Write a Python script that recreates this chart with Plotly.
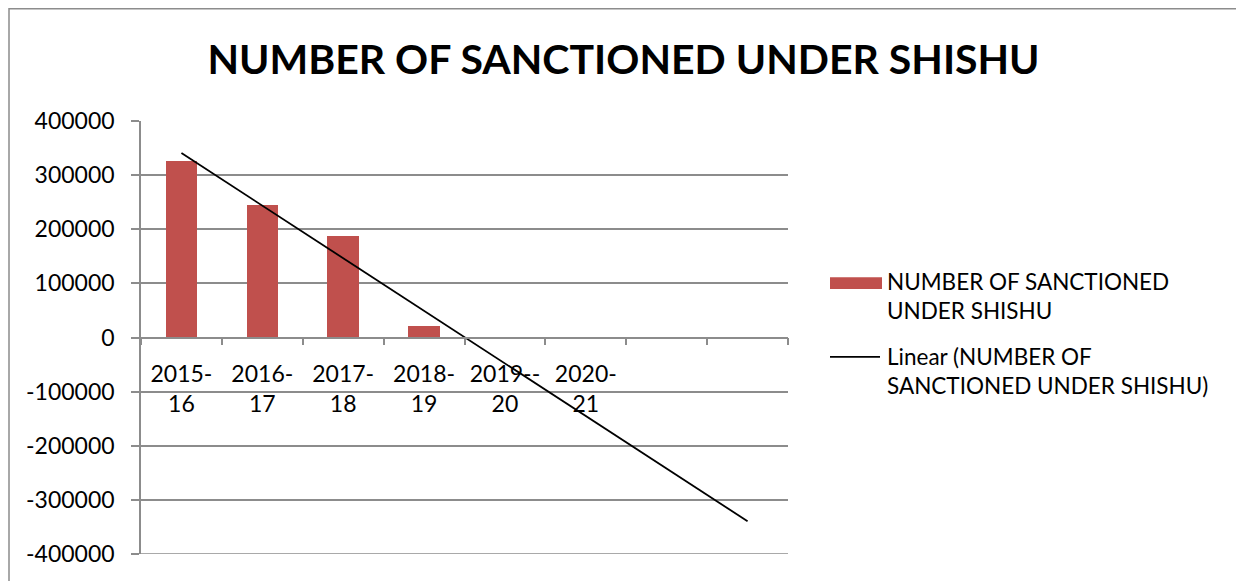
import numpy as np
import plotly.graph_objects as go

# ---- data ----
years = ["2015-<br>16", "2016-<br>17", "2017-<br>18", "2018-<br>19",
         "2019--<br>20", "2020-<br>21", "", ""]
sanctioned = [325900, 245500, 187700, 21200, None, None, None, None]
series_name = "NUMBER OF SANCTIONED UNDER SHISHU"
y_ticks = [400000, 300000, 200000, 100000, 0, -100000, -200000, -300000, -400000]

# ---- geometry (pixels) ----
W, H = 1236, 581
L, R, T, B = 141, 788, 120.5, 554.5
FONT = "Lato, 'Open Sans', sans-serif"
GRID = "#8c8c8c"
BAR = "#C0504D"
TICK_SIZE = 23
LEG_SIZE = 22.5

idx = np.arange(len(years))
known = [(i, v) for i, v in zip(idx, sanctioned) if v is not None]
kx = np.array([k[0] for k in known], dtype=float)
ky = np.array([k[1] for k in known], dtype=float)
slope, intercept = np.polyfit(kx, ky, 1)
trend_x = np.array([idx[0], idx[-1]], dtype=float)
trend_y = slope * trend_x + intercept


def px(x):
    return (x - L) / (R - L)


def py(y):
    return (B - y) / (B - T)


fig = go.Figure()
fig.add_trace(go.Bar(x=idx, y=sanctioned, width=0.39, marker_color=BAR,
                     marker_line_width=0, name=series_name, showlegend=False))
fig.add_trace(go.Scatter(x=trend_x, y=trend_y, mode="lines",
                         line=dict(color="black", width=1.8),
                         name="Linear (" + series_name + ")", showlegend=False))

fig.update_layout(
    width=W, height=H,
    margin=dict(l=L, r=W - R, t=T, b=H - B),
    paper_bgcolor="white", plot_bgcolor="white",
    font=dict(family=FONT, color="black", size=TICK_SIZE),
    title=dict(text="<b>" + series_name + "</b>", x=623.5 / W, xref="container",
               xanchor="center", y=1 - 60 / H, yref="container", yanchor="middle",
               font=dict(family=FONT, size=41, color="black")),
    bargap=0,
)

fig.update_xaxes(
    range=[-0.5, len(years) - 0.5],
    tickmode="array", tickvals=idx, ticktext=years,
    ticks="", showgrid=False,
    anchor="free", position=0.5,
    showline=True, linecolor=GRID, linewidth=1.5,
    ticklabelstandoff=16,
    tickfont=dict(family=FONT, size=TICK_SIZE, color="black"),
    minor=dict(tickmode="array", tickvals=list(idx - 0.5) + [idx[-1] + 0.5],
               ticks="outside", ticklen=7, tickcolor=GRID, tickwidth=1.5,
               showgrid=False),
    zeroline=False,
)
fig.update_yaxes(
    range=[y_ticks[-1], y_ticks[0]],
    tickmode="array", tickvals=y_ticks, ticktext=[str(v) for v in y_ticks],
    showgrid=True, gridcolor=GRID, gridwidth=1.5,
    zeroline=False,
    showline=True, linecolor=GRID, linewidth=1.5,
    ticks="outside", ticklen=8, tickcolor=GRID, tickwidth=1.5,
    ticklabelstandoff=12,
    tickfont=dict(family=FONT, size=TICK_SIZE, color="black"),
)

# gridline at the bottom tick value (plotly skips the one on the plot edge)
fig.add_shape(type="line", xref="paper", yref="y", x0=0, x1=1,
              y0=y_ticks[-1], y1=y_ticks[-1],
              line=dict(color=GRID, width=1.5), layer="below")

# chart frame (top and left edges are inside the page)
fig.add_shape(type="rect", xref="paper", yref="paper",
              x0=px(9), x1=px(W + 20), y0=py(8), y1=py(H + 20),
              line=dict(color=GRID, width=1.5), layer="below")

# legend
fig.add_shape(type="rect", xref="paper", yref="paper",
              x0=px(830), x1=px(882), y0=py(277), y1=py(289),
              fillcolor=BAR, line_width=0)
fig.add_shape(type="line", xref="paper", yref="paper",
              x0=px(830), x1=px(880), y0=py(357), y1=py(357),
              line=dict(color="black", width=1.8))
fig.add_annotation(xref="paper", yref="paper", x=px(885), y=py(266),
                   xanchor="left", yanchor="top", align="left", showarrow=False,
                   text="NUMBER OF SANCTIONED<br>UNDER SHISHU",
                   font=dict(family=FONT, size=LEG_SIZE, color="black"))
fig.add_annotation(xref="paper", yref="paper", x=px(885), y=py(341),
                   xanchor="left", yanchor="top", align="left", showarrow=False,
                   text="Linear (NUMBER OF<br>SANCTIONED UNDER SHISHU)",
                   font=dict(family=FONT, size=LEG_SIZE, color="black"))

fig.write_html("out.html")
